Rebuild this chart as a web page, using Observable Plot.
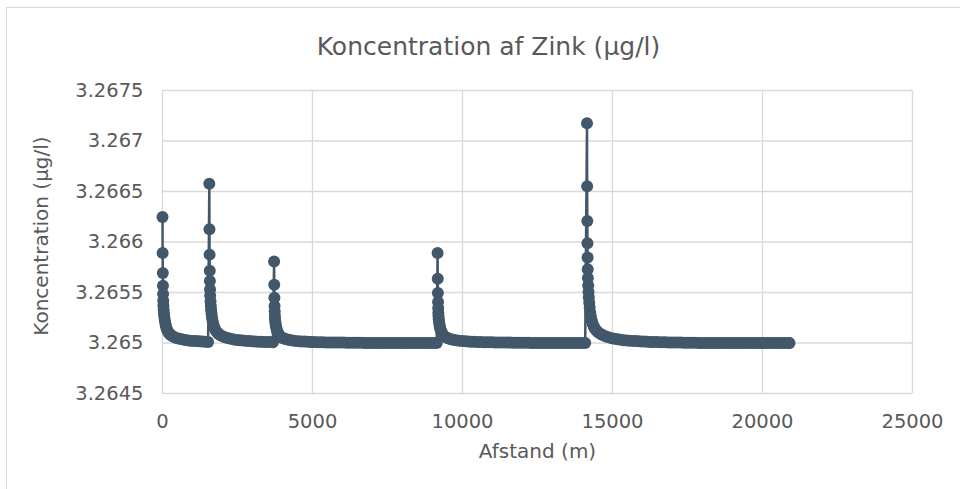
<!DOCTYPE html>
<html>
<head>
<meta charset="utf-8">
<script src="https://cdn.jsdelivr.net/npm/d3@7"></script>
<script src="https://cdn.jsdelivr.net/npm/@observablehq/plot@0.6"></script>
<style>
  html, body { margin: 0; padding: 0; background: #fff; }
  #chart { position: relative; width: 960px; height: 489px; overflow: hidden; }
  #chart .outline { position: absolute; left: 6px; top: 7px; width: 2000px; height: 2000px;
    border: 1.3px solid #d9d9d9; pointer-events: none; }
</style>
</head>
<body>
<div id="chart"><div class="outline"></div></div>
<script>
// Text
const title = "Koncentration af Zink (µg/l)";
const xLabel = "Afstand (m)";
const yLabel = "Koncentration (µg/l)";

// Axis ticks and their labels
const xTicks = [0, 5000, 10000, 15000, 20000, 25000];
const xTickLabels = ["0", "5000", "10000", "15000", "20000", "25000"];
const yTicks = [3.2645, 3.265, 3.2655, 3.266, 3.2665, 3.267, 3.2675];
const yTickLabels = ["3.2645", "3.265", "3.2655", "3.266", "3.2665", "3.267", "3.2675"];

// Reach 1: discharge at 0 m
const reach1Distance = [0, 5, 10, 15, 20, 25, 30, 40, 50, 60, 75, 90, 110, 130, 155, 185, 220, 260, 310, 370,
  440, 520, 610, 710, 820, 920, 1020, 1120, 1220, 1320, 1420, 1520];
const reach1Conc = [3.266248, 3.265891, 3.265693, 3.265567, 3.265485, 3.265419, 3.265369, 3.265327, 3.265290, 3.265260,
  3.265228, 3.265200, 3.265172, 3.265150, 3.265129, 3.265111, 3.265095, 3.265082, 3.265071, 3.265061,
  3.265052, 3.265045, 3.265039, 3.265032, 3.265027, 3.265023, 3.265021, 3.265019, 3.265017, 3.265015,
  3.265013, 3.265011];

// Reach 2: discharge at 1560 m
const reach2Distance = [1560, 1565, 1570, 1575, 1580, 1585, 1590, 1600, 1610, 1620, 1635, 1650, 1670, 1690, 1715,
  1745, 1780, 1820, 1870, 1930, 2000, 2080, 2170, 2270, 2380, 2480, 2580, 2680, 2780, 2880, 2980, 3080, 3180,
  3280, 3380, 3480, 3580, 3680];
const reach2Conc = [3.266577, 3.266126, 3.265875, 3.265716, 3.265613, 3.265530, 3.265467, 3.265413, 3.265366, 3.265328,
  3.265289, 3.265252, 3.265218, 3.265189, 3.265162, 3.265140, 3.265120, 3.265104, 3.265090, 3.265077,
  3.265066, 3.265057, 3.265049, 3.265041, 3.265035, 3.265030, 3.265027, 3.265024, 3.265021, 3.265019,
  3.265017, 3.265015, 3.265013, 3.265012, 3.265011, 3.265010, 3.265009, 3.265008];

// Reach 3: discharge at 3720 m
const reach3Distance = [3720, 3725, 3730, 3735, 3740, 3745, 3750, 3760, 3770, 3780, 3795, 3810, 3830, 3850, 3875,
  3905, 3940, 3980, 4030, 4090, 4160, 4240, 4330, 4430, 4540,
  4640, 4740, 4840, 4940, 5040, 5140, 5240, 5340, 5440, 5540, 5640, 5740, 5840, 5940, 6040, 6140, 6240, 6340,
  6440, 6540, 6640, 6740, 6840, 6940, 7040,
  7140, 7240, 7340, 7440, 7540, 7640, 7740, 7840, 7940, 8040, 8140, 8240, 8340, 8440, 8540, 8640, 8740, 8840,
  8940, 9040, 9140];
const reach3Conc = [3.265808, 3.265577, 3.265448, 3.265367, 3.265314, 3.265271, 3.265239, 3.265212, 3.265187, 3.265168,
  3.265148, 3.265129, 3.265112, 3.265097, 3.265083, 3.265072, 3.265061, 3.265053, 3.265046, 3.265040,
  3.265034, 3.265029, 3.265025, 3.265021, 3.265018,
  3.265016, 3.265014, 3.265012, 3.265010, 3.265009, 3.265008, 3.265008, 3.265007, 3.265006, 3.265006,
  3.265005, 3.265005, 3.265004, 3.265004, 3.265004, 3.265003, 3.265003, 3.265003, 3.265002, 3.265002,
  3.265002, 3.265001, 3.265001, 3.265001, 3.265001,
  3.265000, 3.265000, 3.265000, 3.265000, 3.265000, 3.265000, 3.265000, 3.265000, 3.265000, 3.265000,
  3.265000, 3.265000, 3.265000, 3.265000, 3.265000, 3.265000, 3.265000, 3.265000, 3.265000, 3.265000,
  3.265000];

// Reach 4: discharge at 9170 m
const reach4Distance = [9170, 9175, 9180, 9185, 9190, 9195, 9200, 9210, 9220, 9230, 9245, 9260, 9280, 9300, 9325,
  9355, 9390, 9430, 9480, 9540, 9610, 9690, 9780, 9880, 9990,
  10090, 10190, 10290, 10390, 10490, 10590, 10690, 10790, 10890, 10990, 11090, 11190, 11290, 11390, 11490,
  11590, 11690, 11790, 11890, 11990, 12090, 12190, 12290, 12390, 12490,
  12590, 12690, 12790, 12890, 12990, 13090, 13190, 13290, 13390, 13490, 13590, 13690, 13790, 13890, 13990, 14090];
const reach4Conc = [3.265891, 3.265636, 3.265495, 3.265405, 3.265347, 3.265299, 3.265264, 3.265233, 3.265207, 3.265185,
  3.265163, 3.265143, 3.265123, 3.265107, 3.265092, 3.265079, 3.265068, 3.265059, 3.265051, 3.265044,
  3.265037, 3.265032, 3.265028, 3.265023, 3.265020,
  3.265017, 3.265015, 3.265013, 3.265012, 3.265010, 3.265009, 3.265008, 3.265008, 3.265007, 3.265007,
  3.265006, 3.265006, 3.265005, 3.265005, 3.265004, 3.265004, 3.265003, 3.265003, 3.265003, 3.265002,
  3.265002, 3.265002, 3.265001, 3.265001, 3.265001,
  3.265000, 3.265000, 3.265000, 3.265000, 3.265000, 3.265000, 3.265000, 3.265000, 3.265000, 3.265000,
  3.265000, 3.265000, 3.265000, 3.265000, 3.265000, 3.265000];

// Reach 5: discharge at 14150 m
const reach5Distance = [14150, 14155, 14160, 14165, 14170, 14175, 14180, 14190, 14200, 14210, 14225, 14240, 14260,
  14280, 14305, 14335, 14370, 14410, 14460, 14520, 14590, 14670, 14760, 14860, 14970,
  15070, 15170, 15270, 15370, 15470, 15570, 15670, 15770, 15870, 15970, 16070, 16170, 16270, 16370, 16470,
  16570, 16670, 16770, 16870, 16970, 17070, 17170, 17270, 17370, 17470, 17570, 17670, 17770, 17870, 17970, 18070,
  18170, 18270, 18370, 18470, 18570, 18670, 18770, 18870, 18970, 19070, 19170, 19270, 19370, 19470, 19570,
  19670, 19770, 19870, 19970, 20070, 20170, 20270, 20370, 20470, 20570, 20670, 20770, 20870, 20900];
const reach5Conc = [3.267175, 3.266553, 3.266207, 3.265987, 3.265846, 3.265731, 3.265644, 3.265570, 3.265505, 3.265452,
  3.265398, 3.265348, 3.265300, 3.265261, 3.265224, 3.265194, 3.265165, 3.265144, 3.265124, 3.265107,
  3.265091, 3.265078, 3.265067, 3.265057, 3.265048,
  3.265041, 3.265036, 3.265032, 3.265028, 3.265025, 3.265023, 3.265021, 3.265019, 3.265017, 3.265015,
  3.265014, 3.265013, 3.265011, 3.265010, 3.265009, 3.265008, 3.265008, 3.265007, 3.265006, 3.265006,
  3.265005, 3.265004, 3.265004, 3.265003, 3.265003, 3.265002, 3.265002, 3.265002, 3.265001, 3.265001,
  3.265001,
  3.265000, 3.265000, 3.265000, 3.265000, 3.265000, 3.265000, 3.265000, 3.265000, 3.265000, 3.265000,
  3.265000, 3.265000, 3.265000, 3.265000, 3.265000, 3.265000, 3.265000, 3.265000, 3.265000, 3.265000,
  3.265000, 3.265000, 3.265000, 3.265000, 3.265000, 3.265000, 3.265000, 3.265000, 3.265000];

// One continuous series along the stream
const reaches = [
  [reach1Distance, reach1Conc],
  [reach2Distance, reach2Conc],
  [reach3Distance, reach3Conc],
  [reach4Distance, reach4Conc],
  [reach5Distance, reach5Conc]
];
const points = reaches.flatMap(([dist, conc]) => dist.map((d, i) => ({distance: d, concentration: conc[i]})));

const ink = "#42576a";
const textGrey = "#595959";
const gridGrey = "#d9d9d9";

const chart = Plot.plot({
  width: 960,
  height: 489,
  marginLeft: 162,
  marginRight: 48,
  marginTop: 90,
  marginBottom: 96,
  style: {fontFamily: "'DejaVu Sans', Verdana, sans-serif", color: textGrey, background: "transparent"},
  x: {domain: [0, 25000]},
  y: {domain: [3.2645, 3.2675]},
  marks: [
    Plot.gridY(yTicks, {stroke: gridGrey, strokeOpacity: 1, strokeWidth: 1.3}),
    Plot.gridX(xTicks, {stroke: gridGrey, strokeOpacity: 1, strokeWidth: 1.3}),
    Plot.axisX(xTicks, {tickSize: 0, tickPadding: 21, fontSize: 19.5, label: null,
      tickFormat: (d) => xTickLabels[xTicks.indexOf(d)]}),
    Plot.axisY(yTicks, {tickSize: 0, tickPadding: 19, fontSize: 19.5, label: null,
      tickFormat: (d) => yTickLabels[yTicks.indexOf(d)]}),
    Plot.line(points, {x: "distance", y: "concentration", stroke: ink, strokeWidth: 2.5}),
    Plot.dot(points, {x: "distance", y: "concentration", r: 6, fill: ink}),
    Plot.text([title], {text: (d) => d, frameAnchor: "top", lineAnchor: "middle", dx: -49, dy: -44,
      fontSize: 25, fill: textGrey}),
    Plot.text([xLabel], {text: (d) => d, frameAnchor: "bottom", lineAnchor: "middle", dy: 58,
      fontSize: 20, fill: textGrey}),
    Plot.text([yLabel], {text: (d) => d, frameAnchor: "left", lineAnchor: "middle", textAnchor: "middle",
      dx: -121, dy: -6, rotate: -90, fontSize: 20, fill: textGrey})
  ]
});

document.getElementById("chart").prepend(chart);
</script>
</body>
</html>
